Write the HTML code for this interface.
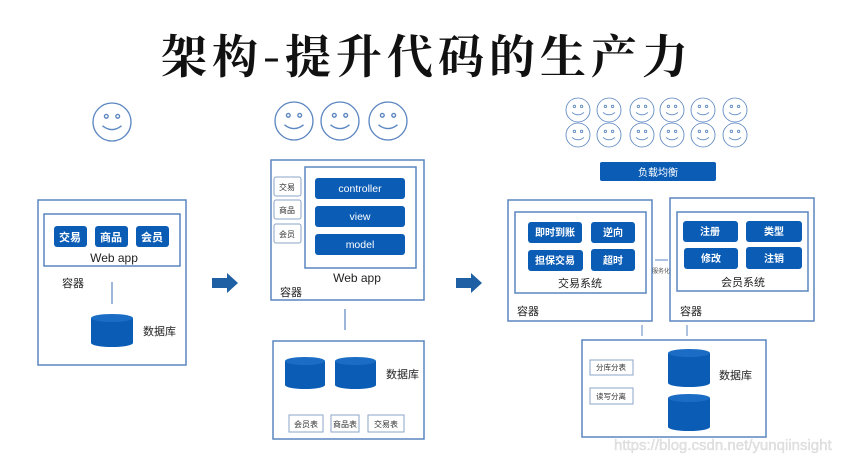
<!DOCTYPE html>
<html><head><meta charset="utf-8"><style>
html,body{margin:0;padding:0;background:#fff;}
svg{display:block;}
text{font-family:"Liberation Sans","Noto Sans CJK SC",sans-serif;}
.t{font-family:"Noto Serif CJK SC","Noto Sans CJK SC",serif;}
</style></head><body>
<svg width="855" height="461" viewBox="0 0 855 461" xmlns="http://www.w3.org/2000/svg">
<defs>
<g id="sm"><circle cx="0" cy="0" r="1" fill="#fff" stroke="#5b86c0" stroke-width="0.07"/>
<circle cx="-0.3" cy="-0.3" r="0.1" fill="none" stroke="#5b86c0" stroke-width="0.07"/>
<circle cx="0.3" cy="-0.3" r="0.1" fill="none" stroke="#5b86c0" stroke-width="0.07"/>
<path d="M-0.5 0.2 Q0 0.6 0.5 0.2" fill="none" stroke="#5b86c0" stroke-width="0.07"/></g>
</defs>
<text x="427" y="73" text-anchor="middle" class="t" font-size="46" font-weight="bold" letter-spacing="5" fill="#111">架构-提升代码的生产力</text>

<!-- panel 1 -->
<use href="#sm" transform="translate(112,122) scale(19)"/>
<g fill="none" stroke="#5b86c0" stroke-width="1.5">
<rect x="38" y="200" width="148" height="165"/>
<rect x="44" y="214" width="136" height="52"/>
</g>
<g fill="#0b5cb5"><rect x="54" y="226" width="33" height="21" rx="3"/><rect x="95" y="226" width="33" height="21" rx="3"/><rect x="136" y="226" width="33" height="21" rx="3"/></g>
<g fill="#fff" font-size="11" font-weight="bold" text-anchor="middle"><text x="70" y="241">交易</text><text x="111" y="241">商品</text><text x="152" y="241">会员</text></g>
<text x="114" y="262" font-size="12" text-anchor="middle" fill="#222">Web app</text>
<text x="62" y="287" font-size="11" fill="#222">容器</text>
<line x1="112" y1="282" x2="112" y2="304" stroke="#5b86c0" stroke-width="1.2"/>
<g fill="#0b5cb5"><rect x="91" y="318" width="42" height="25"/><ellipse cx="112" cy="318" rx="21" ry="4" fill="#1a6cc4"/><ellipse cx="112" cy="343" rx="21" ry="4"/></g>
<text x="143" y="335" font-size="11" fill="#222">数据库</text>
<path d="M212 278 H227 V273 L238 283 L227 293 V288 H212 Z" fill="#1f5fa3"/>

<!-- panel 2 -->
<use href="#sm" transform="translate(294,121) scale(19)"/>
<use href="#sm" transform="translate(340,121) scale(19)"/>
<use href="#sm" transform="translate(388,121) scale(19)"/>
<g fill="none" stroke="#5b86c0" stroke-width="1.5">
<rect x="271" y="160" width="153" height="140"/>
<rect x="305" y="167" width="111" height="101"/>
<rect x="273" y="341" width="151" height="98"/>
</g>
<g fill="#fff" stroke="#8aa6c8" stroke-width="1"><rect x="274" y="177" width="27" height="19" rx="2"/><rect x="274" y="200" width="27" height="19" rx="2"/><rect x="274" y="224" width="27" height="19" rx="2"/>
<rect x="289" y="415" width="34" height="17"/><rect x="331" y="415" width="28" height="17"/><rect x="368" y="415" width="36" height="17"/></g>
<g font-size="8" text-anchor="middle" fill="#333"><text x="287" y="190">交易</text><text x="287" y="213">商品</text><text x="287" y="237">会员</text>
<text x="306" y="427">会员表</text><text x="345" y="427">商品表</text><text x="386" y="427">交易表</text></g>
<g fill="#0b5cb5"><rect x="315" y="178" width="90" height="21" rx="3"/><rect x="315" y="206" width="90" height="21" rx="3"/><rect x="315" y="234" width="90" height="21" rx="3"/></g>
<g fill="#fff" font-size="10.5" text-anchor="middle"><text x="360" y="192">controller</text><text x="360" y="220">view</text><text x="360" y="248">model</text></g>
<text x="357" y="282" font-size="12" text-anchor="middle" fill="#222">Web app</text>
<text x="280" y="296" font-size="11" fill="#222">容器</text>
<line x1="345" y1="309" x2="345" y2="330" stroke="#5b86c0" stroke-width="1.2"/>
<g fill="#0b5cb5"><rect x="285" y="361" width="40" height="24"/><ellipse cx="305" cy="361" rx="20" ry="4" fill="#1a6cc4"/><ellipse cx="305" cy="385" rx="20" ry="4"/>
<rect x="335" y="361" width="41" height="24"/><ellipse cx="355.5" cy="361" rx="20.5" ry="4" fill="#1a6cc4"/><ellipse cx="355.5" cy="385" rx="20.5" ry="4"/></g>
<text x="386" y="378" font-size="11" fill="#222">数据库</text>
<path d="M456 278 H471 V273 L482 283 L471 293 V288 H456 Z" fill="#1f5fa3"/>

<!-- panel 3 -->
<g>
<use href="#sm" transform="translate(578,110) scale(12)"/><use href="#sm" transform="translate(609,110) scale(12)"/><use href="#sm" transform="translate(642,110) scale(12)"/><use href="#sm" transform="translate(672,110) scale(12)"/><use href="#sm" transform="translate(703,110) scale(12)"/><use href="#sm" transform="translate(735,110) scale(12)"/>
<use href="#sm" transform="translate(578,135) scale(12)"/><use href="#sm" transform="translate(609,135) scale(12)"/><use href="#sm" transform="translate(642,135) scale(12)"/><use href="#sm" transform="translate(672,135) scale(12)"/><use href="#sm" transform="translate(703,135) scale(12)"/><use href="#sm" transform="translate(735,135) scale(12)"/>
</g>
<rect x="600" y="162" width="116" height="19" rx="2" fill="#0b5cb5"/>
<text x="658" y="176" font-size="10" text-anchor="middle" fill="#fff">负载均衡</text>
<g fill="none" stroke="#5b86c0" stroke-width="1.5">
<rect x="508" y="200" width="144" height="121"/>
<rect x="515" y="212" width="131" height="81"/>
<rect x="670" y="198" width="144" height="123"/>
<rect x="677" y="212" width="131" height="79"/>
<rect x="582" y="340" width="184" height="97"/>
</g>
<g fill="#0b5cb5">
<rect x="528" y="222" width="54" height="21" rx="3"/><rect x="591" y="222" width="44" height="21" rx="3"/>
<rect x="528" y="250" width="55" height="21" rx="3"/><rect x="591" y="249" width="44" height="22" rx="3"/>
<rect x="683" y="221" width="55" height="21" rx="3"/><rect x="746" y="221" width="56" height="21" rx="3"/>
<rect x="684" y="248" width="54" height="21" rx="3"/><rect x="746" y="247" width="56" height="22" rx="3"/>
</g>
<g fill="#fff" font-size="10" font-weight="bold" text-anchor="middle">
<text x="555" y="236">即时到账</text><text x="613" y="236">逆向</text><text x="555" y="264">担保交易</text><text x="613" y="264">超时</text>
<text x="710" y="235">注册</text><text x="774" y="235">类型</text><text x="711" y="262">修改</text><text x="774" y="262">注销</text>
</g>
<text x="580" y="287" font-size="11" text-anchor="middle" fill="#222">交易系统</text>
<text x="743" y="286" font-size="11" text-anchor="middle" fill="#222">会员系统</text>
<text x="517" y="315" font-size="11" fill="#222">容器</text>
<text x="680" y="315" font-size="11" fill="#222">容器</text>
<line x1="655" y1="260" x2="668" y2="260" stroke="#5b86c0" stroke-width="1"/>
<text x="661" y="273" font-size="6" text-anchor="middle" fill="#555">服务化</text>
<g stroke="#5b86c0" stroke-width="1"><line x1="642" y1="325" x2="642" y2="336"/><line x1="687" y1="325" x2="687" y2="336"/></g>
<g fill="#fff" stroke="#8aa6c8" stroke-width="1"><rect x="590" y="360" width="43" height="15"/><rect x="590" y="388" width="43" height="16"/></g>
<g font-size="7.5" text-anchor="middle" fill="#333"><text x="611" y="370">分库分表</text><text x="611" y="399">读写分离</text></g>
<g fill="#0b5cb5"><rect x="668" y="353" width="42" height="30"/><ellipse cx="689" cy="353" rx="21" ry="4" fill="#1a6cc4"/><ellipse cx="689" cy="383" rx="21" ry="4"/>
<rect x="668" y="398" width="42" height="29"/><ellipse cx="689" cy="398" rx="21" ry="4" fill="#1a6cc4"/><ellipse cx="689" cy="427" rx="21" ry="4"/></g>
<text x="719" y="379" font-size="11" fill="#222">数据库</text>
<text x="614" y="450" font-size="15" fill="#e4e4e4" stroke="#cfcfcf" stroke-width="0.3">https://blog.csdn.net/yunqiinsight</text>
</svg>
</body></html>
